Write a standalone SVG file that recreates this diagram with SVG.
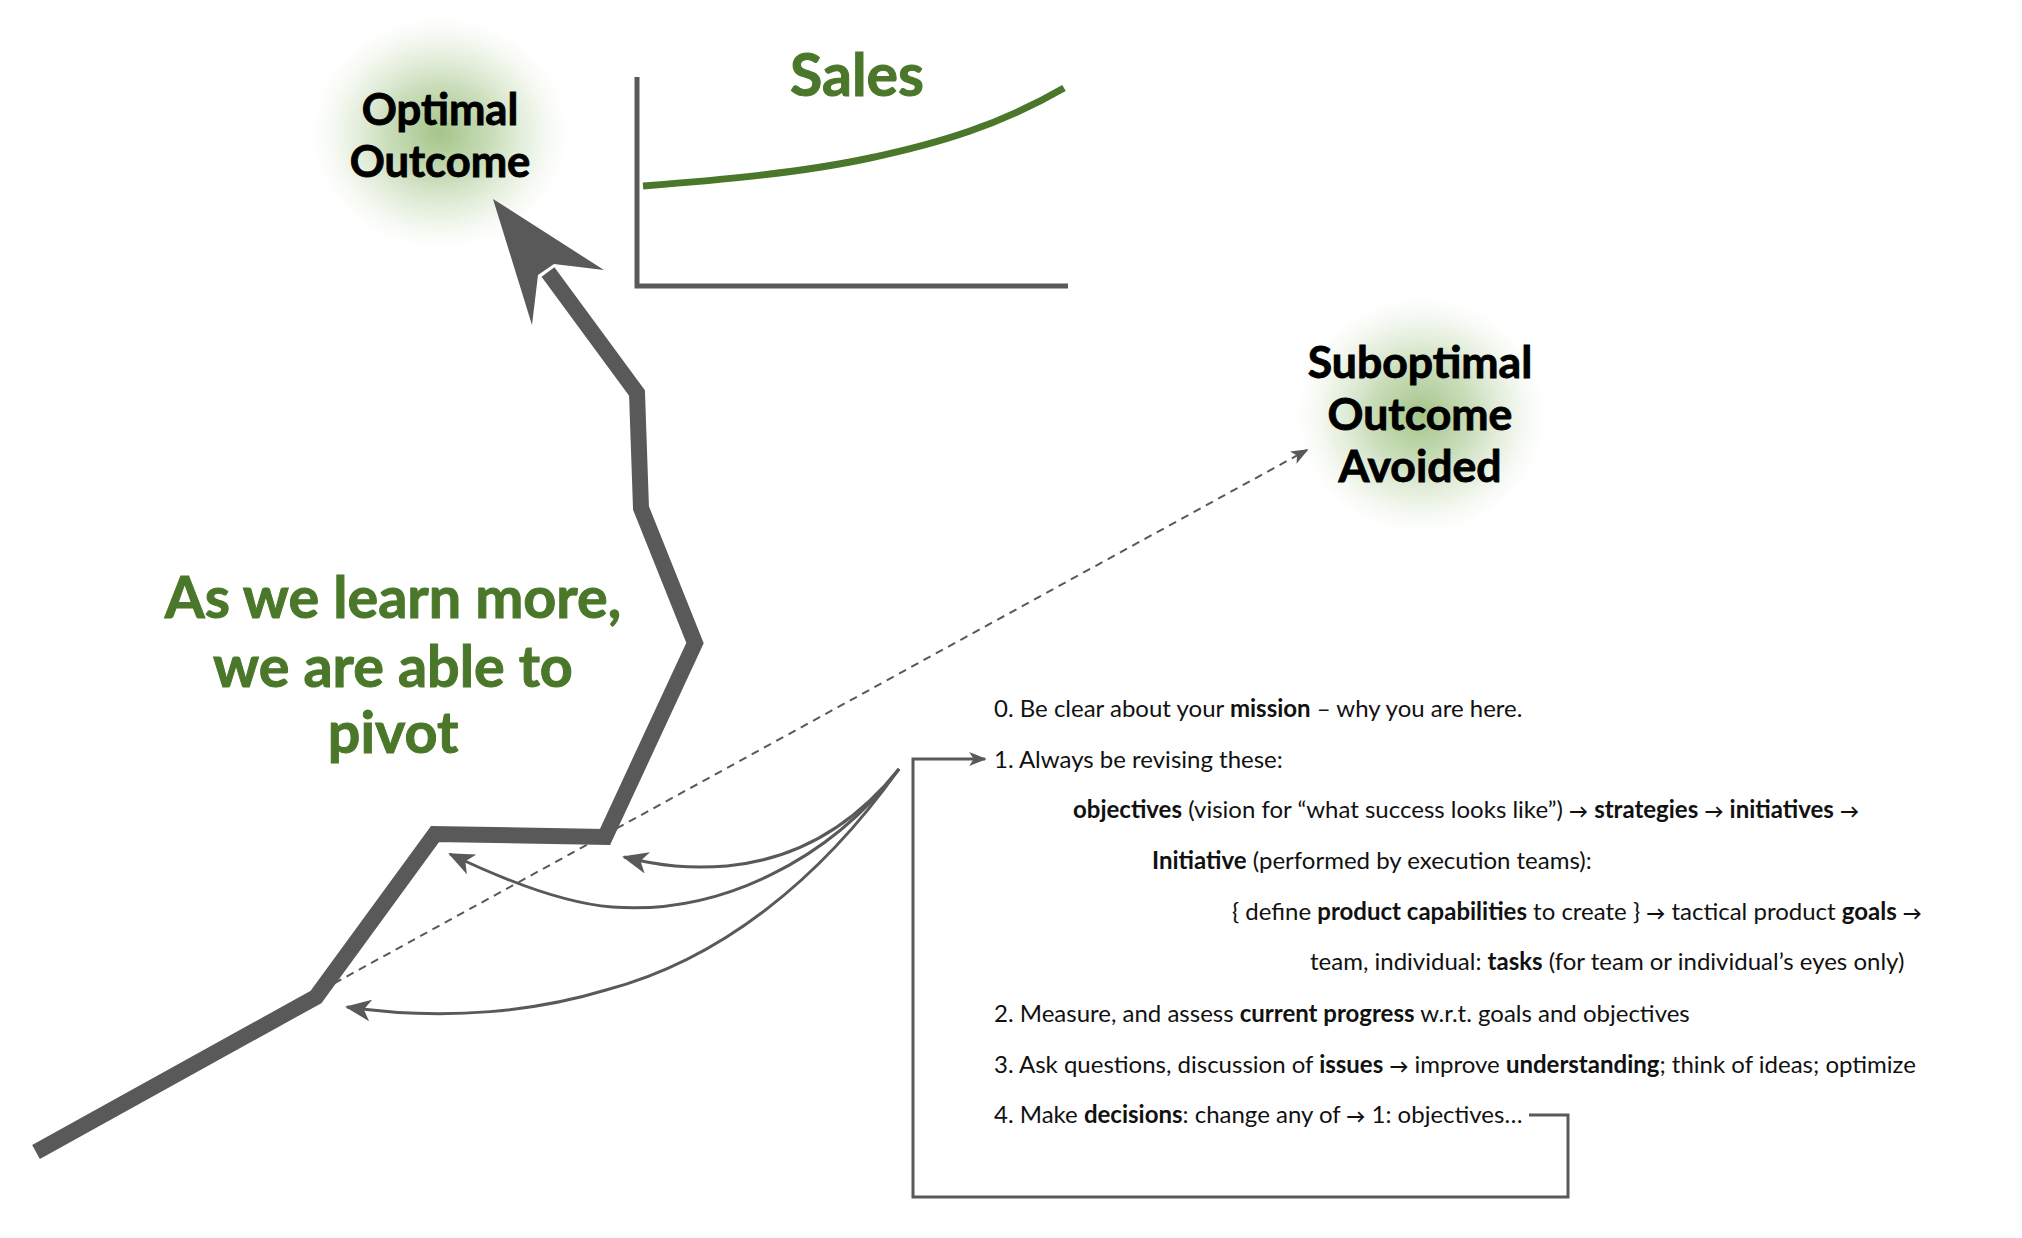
<svg xmlns="http://www.w3.org/2000/svg" width="2022" height="1238" viewBox="0 0 2022 1238">
<style>
.title{font-family:Lato,"Liberation Sans",sans-serif;font-weight:700;fill:#000;stroke:#000;stroke-width:0.9;text-anchor:middle}
.green{font-family:Lato,"Liberation Sans",sans-serif;font-weight:700;fill:#4a7729;stroke:#4a7729;stroke-width:1;text-anchor:middle}
.body{font-family:Lato,"Liberation Sans",sans-serif;font-size:24px;fill:#111}
.b{font-weight:700}
.ar{font-weight:700;font-size:19px}
.conn{fill:none;stroke:#595959;stroke-width:3}
.dash{fill:none;stroke:#595959;stroke-width:2;stroke-dasharray:8 6}
</style>
<defs>
<radialGradient id="glow" cx="0.5" cy="0.5" r="0.5">
<stop offset="0" stop-color="#8db56a" stop-opacity="0.8"/>
<stop offset="0.4" stop-color="#9fc283" stop-opacity="0.55"/>
<stop offset="0.7" stop-color="#c2d9b0" stop-opacity="0.32"/>
<stop offset="0.88" stop-color="#e0ecd6" stop-opacity="0.14"/>
<stop offset="1" stop-color="#ffffff" stop-opacity="0"/>
</radialGradient>
<marker id="ah" viewBox="0 0 26 22" refX="24" refY="11" markerWidth="26" markerHeight="22" markerUnits="userSpaceOnUse" orient="auto">
<path d="M0,0 L26,11 L0,22 L7,11 z" fill="#595959"/>
</marker>
<marker id="ahs" viewBox="0 0 20 16" refX="18" refY="8" markerWidth="18" markerHeight="14" markerUnits="userSpaceOnUse" orient="auto">
<path d="M0,0 L20,8 L0,16 L5,8 z" fill="#595959"/>
</marker>
</defs>

<g id="optimal-outcome">
<ellipse cx="440" cy="133" rx="134" ry="122" fill="url(#glow)"/>
<text class="title" font-size="43.5"><tspan x="440" y="125">Optimal</tspan><tspan x="440" y="177">Outcome</tspan></text>
</g>

<g id="suboptimal-outcome">
<ellipse cx="1421" cy="415" rx="130" ry="124" fill="url(#glow)"/>
<text class="title" font-size="44.5"><tspan x="1420" y="378">Suboptimal</tspan><tspan x="1420" y="430">Outcome</tspan><tspan x="1420" y="482">Avoided</tspan></text>
</g>

<g id="sales-chart">
<path d="M637,77 L637,286 L1068,286" fill="none" stroke="#595959" stroke-width="5"/>
<path d="M643,186 C720,180 800,173 870,158 C940,143 1000,125 1064,88" fill="none" stroke="#4a7729" stroke-width="7"/>
<text class="green" font-size="59" x="857" y="96">Sales</text>
</g>

<g id="pivot-label">
<text class="green" font-size="57.5"><tspan x="393" y="618">As we learn more,</tspan><tspan x="393" y="687">we are able to</tspan><tspan x="393" y="753">pivot</tspan></text>
</g>

<g id="path-arrow">
<polyline points="36,1152 316,997 435,834 605,837 695,643 641,508 637,393 548,272" fill="none" stroke="#595959" stroke-width="16" stroke-linejoin="miter"/>
<polygon points="493,199 604,270 554,264 538,275 532,325" fill="#595959"/>
</g>

<g id="steps">
<text class="body" x="994" y="717">0. Be clear about your <tspan class="b">mission</tspan> – why you are here.</text>
<text class="body" x="994" y="768">1. Always be revising these:</text>
<text class="body" x="1073" y="818"><tspan class="b">objectives</tspan> (vision for “what success looks like”) <tspan class="ar">→</tspan> <tspan class="b">strategies</tspan> <tspan class="ar">→</tspan> <tspan class="b">initiatives</tspan> <tspan class="ar">→</tspan></text>
<text class="body" x="1152" y="869"><tspan class="b">Initiative</tspan> (performed by execution teams):</text>
<text class="body" x="1232" y="920">{ define <tspan class="b">product capabilities</tspan> to create } <tspan class="ar">→</tspan> tactical product <tspan class="b">goals</tspan> <tspan class="ar">→</tspan></text>
<text class="body" x="1310" y="970">team, individual: <tspan class="b">tasks</tspan> (for team or individual’s eyes only)</text>
<text class="body" x="994" y="1022">2. Measure, and assess <tspan class="b">current progress</tspan> w.r.t. goals and objectives</text>
<text class="body" x="994" y="1073">3. Ask questions, discussion of <tspan class="b">issues</tspan> <tspan class="ar">→</tspan> improve <tspan class="b">understanding</tspan>; think of ideas; optimize</text>
<text class="body" x="994" y="1123">4. Make <tspan class="b">decisions</tspan>: change any of <tspan class="ar">→</tspan> 1: objectives…</text>
</g>

<g id="connectors">
<path class="dash" d="M322,990 L1307,450" marker-end="url(#ahs)"/>
<path class="conn" d="M1529,1115 L1568,1115 L1568,1197 L913,1197 L913,759 L985,759" marker-end="url(#ahs)"/>
<path class="conn" d="M899,769 C850,830 790,860 727,866 C690,869 660,866 624,857" marker-end="url(#ah)"/>
<path class="conn" d="M899,769 C830,860 720,915 612,907 C560,903 500,878 450,854" marker-end="url(#ah)"/>
<path class="conn" d="M899,769 C820,880 720,960 606,990 C540,1010 450,1022 347,1007" marker-end="url(#ah)"/>
</g>
</svg>
